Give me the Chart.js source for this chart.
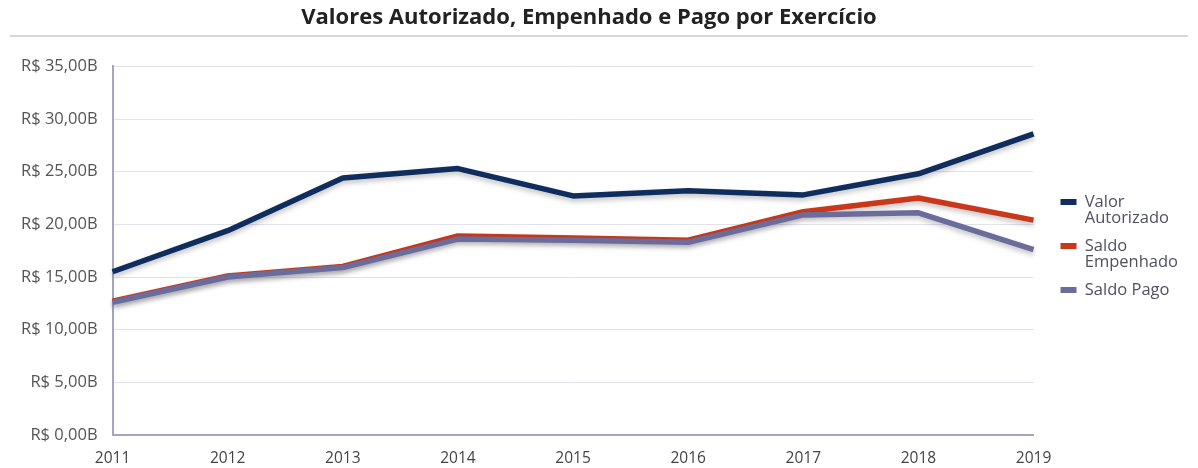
<!DOCTYPE html>
<html>
<head>
<meta charset="utf-8">
<script src="https://cdn.jsdelivr.net/npm/chart.js@4/dist/chart.umd.min.js"></script>
<style>
  html, body { margin: 0; padding: 0; background: #fff; }
  #wrap { width: 1198px; height: 468px; position: relative; }
</style>
</head>
<body>
<div id="wrap"><canvas id="chart"></canvas></div>
<script>
const years = ['2011', '2012', '2013', '2014', '2015', '2016', '2017', '2018', '2019'];
const valorAutorizado = [15.5, 19.4, 24.4, 25.3, 22.7, 23.2, 22.8, 24.8, 28.6];
const saldoEmpenhado = [12.7, 15.1, 16.0, 18.9, 18.7, 18.5, 21.2, 22.5, 20.4];
const saldoPago = [12.6, 15.0, 15.9, 18.6, 18.5, 18.3, 20.9, 21.1, 17.6];
const yTickLabels = ['R$ 0,00B', 'R$ 5,00B', 'R$ 10,00B', 'R$ 15,00B', 'R$ 20,00B', 'R$ 25,00B', 'R$ 30,00B', 'R$ 35,00B'];

const fontFamily = '"Open Sans", "Noto Sans", sans-serif';

// sombra por baixo das linhas
const lineShadow = {
    id: 'lineShadow',
    beforeDatasetDraw(chart) {
        const ctx = chart.ctx;
        ctx.save();
        ctx.shadowColor = 'rgba(60, 60, 70, 0.3)';
        ctx.shadowBlur = 5;
        ctx.shadowOffsetY = 3;
    },
    afterDatasetDraw(chart) {
        chart.ctx.restore();
    }
};

// linha separadora abaixo do título
const titleRule = {
    id: 'titleRule',
    afterDraw(chart) {
        const ctx = chart.ctx;
        ctx.save();
        ctx.strokeStyle = '#d4d4e4';
        ctx.lineWidth = 2;
        ctx.beginPath();
        ctx.moveTo(10, 36);
        ctx.lineTo(1188, 36);
        ctx.stroke();
        ctx.restore();
    }
};

// afasta a legenda um pouco do gráfico
const legendShift = {
    id: 'legendShift',
    afterLayout(chart) {
        if (!chart.legend) return;
        chart.legend.left += 16;
        chart.legend.right += 16;
        chart.legend.top += 12;
        chart.legend.bottom += 12;
    }
};

new Chart(document.getElementById('chart'), {
    type: 'line',
    data: {
        labels: years,
        datasets: [
            { label: 'Valor Autorizado', data: valorAutorizado, borderColor: '#0f2e5e', backgroundColor: '#0f2e5e', order: 2 },
            { label: 'Saldo Empenhado', data: saldoEmpenhado, borderColor: '#c9381b', backgroundColor: '#c9381b', order: 1 },
            { label: 'Saldo Pago', data: saldoPago, borderColor: '#6c6c9c', backgroundColor: '#6c6c9c', order: 0 }
        ]
    },
    options: {
        responsive: true,
        maintainAspectRatio: false,
        animation: false,
        elements: {
            line: { borderWidth: 5.5, tension: 0, borderJoinStyle: 'round' },
            point: { radius: 0, hoverRadius: 0 }
        },
        layout: { padding: { left: 6, right: 26, bottom: 0 } },
        scales: {
            x: {
                offset: false,
                grid: { display: false, drawTicks: false },
                border: { color: '#a4a4c6', width: 2 },
                ticks: { color: '#444', font: { family: fontFamily, size: 15.5 }, padding: 14, maxRotation: 0 },
                afterFit(scale) { scale.height = 33; }
            },
            y: {
                min: 0,
                max: 35,
                grid: { color: '#e2e2ee', lineWidth: 1, drawTicks: false },
                border: { color: '#a4a4c6', width: 2 },
                ticks: {
                    stepSize: 5,
                    color: '#555',
                    padding: 15,
                    font: { family: fontFamily, size: 16.5 },
                    callback: (v, i) => yTickLabels[i]
                }
            }
        },
        plugins: {
            title: {
                display: true,
                text: 'Valores Autorizado, Empenhado e Pago por Exercício',
                color: '#222',
                font: { family: fontFamily, size: 22, weight: 'bold' },
                padding: { top: 5, bottom: 35 }
            },
            legend: {
                position: 'right',
                labels: {
                    color: '#505060',
                    font: { family: fontFamily, size: 16.5, lineHeight: 1.0 },
                    boxWidth: 16,
                    boxHeight: 6,
                    padding: 11,
                    sort: (a, b) => a.datasetIndex - b.datasetIndex,
                    generateLabels(chart) {
                        const items = Chart.defaults.plugins.legend.labels.generateLabels(chart);
                        items.forEach(item => {
                            const parts = item.text.split(' ');
                            if (item.text !== 'Saldo Pago') item.text = parts;
                            item.lineWidth = 0;
                        });
                        return items;
                    }
                }
            },
            tooltip: { enabled: false }
        }
    },
    plugins: [lineShadow, titleRule, legendShift]
});
</script>
</body>
</html>
